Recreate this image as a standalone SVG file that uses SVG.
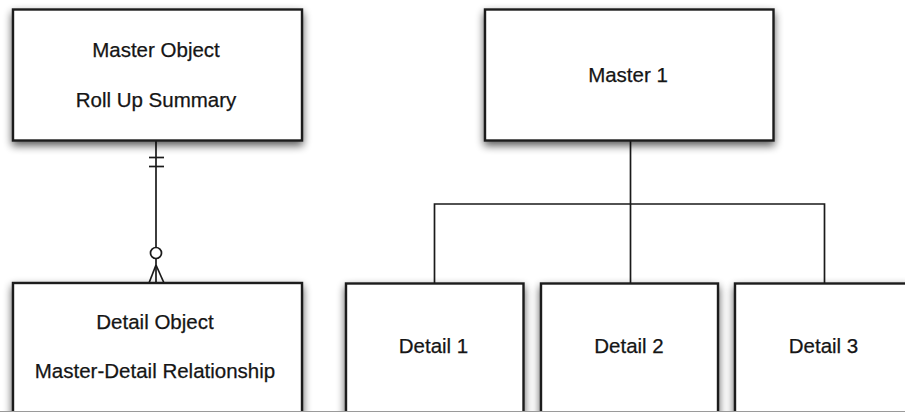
<svg xmlns="http://www.w3.org/2000/svg" width="905" height="412" viewBox="0 0 905 412">
<defs>
<filter id="sh" x="-10%" y="-10%" width="125%" height="130%">
<feGaussianBlur in="SourceAlpha" stdDeviation="4"/>
<feOffset dx="0" dy="4" result="b"/>
<feComponentTransfer><feFuncA type="linear" slope="0.65"/></feComponentTransfer>
<feMerge><feMergeNode/><feMergeNode in="SourceGraphic"/></feMerge>
</filter>
</defs>
<style>
.box{fill:#fff;stroke:#1a1a1a;stroke-width:2.4;filter:url(#sh)}
.t{font-family:"Liberation Sans",Arial,Helvetica,sans-serif;font-size:20.5px;fill:#151515;stroke:#151515;stroke-width:0.25;text-anchor:middle}
.ln{fill:none;stroke:#1a1a1a;stroke-width:1.7}
</style>
<rect width="905" height="412" fill="#fff"/>
<g id="connectors">
<line class="ln" x1="156" y1="141" x2="156" y2="247"/>
<line class="ln" x1="149" y1="157.5" x2="164" y2="157.5"/>
<line class="ln" x1="149" y1="166.5" x2="164" y2="166.5"/>
<circle class="ln" cx="156" cy="253" r="5.5"/>
<line class="ln" x1="156" y1="258.5" x2="156" y2="283"/>
<line class="ln" x1="156" y1="265" x2="149" y2="283"/>
<line class="ln" x1="156" y1="265" x2="164" y2="283"/>
<line class="ln" x1="630.5" y1="141" x2="630.5" y2="283"/>
<polyline class="ln" points="434.5,283 434.5,204 824.5,204 824.5,283"/>
</g>
<g id="master-object">
<rect class="box" x="13" y="9.5" width="289" height="131"/>
<text class="t" x="156" y="57">Master Object</text>
<text class="t" x="156" y="107">Roll Up Summary</text>
</g>
<g id="detail-object">
<rect class="box" x="13" y="283" width="289" height="140"/>
<text class="t" x="155" y="329">Detail Object</text>
<text class="t" x="155" y="378">Master-Detail Relationship</text>
</g>
<g id="master-1">
<rect class="box" x="485" y="9.5" width="288.5" height="131"/>
<text class="t" x="628" y="82">Master 1</text>
</g>
<g id="detail-1">
<rect class="box" x="346" y="283.5" width="177.5" height="140"/>
<text class="t" x="433.5" y="353">Detail 1</text>
</g>
<g id="detail-2">
<rect class="box" x="541" y="283.5" width="177" height="140"/>
<text class="t" x="629" y="353">Detail 2</text>
</g>
<g id="detail-3">
<rect class="box" x="735" y="283.5" width="177" height="140"/>
<text class="t" x="823.5" y="353">Detail 3</text>
</g>
<line x1="0" y1="411.5" x2="905" y2="411.5" stroke="#9a9a9a" stroke-width="1"/>
</svg>
